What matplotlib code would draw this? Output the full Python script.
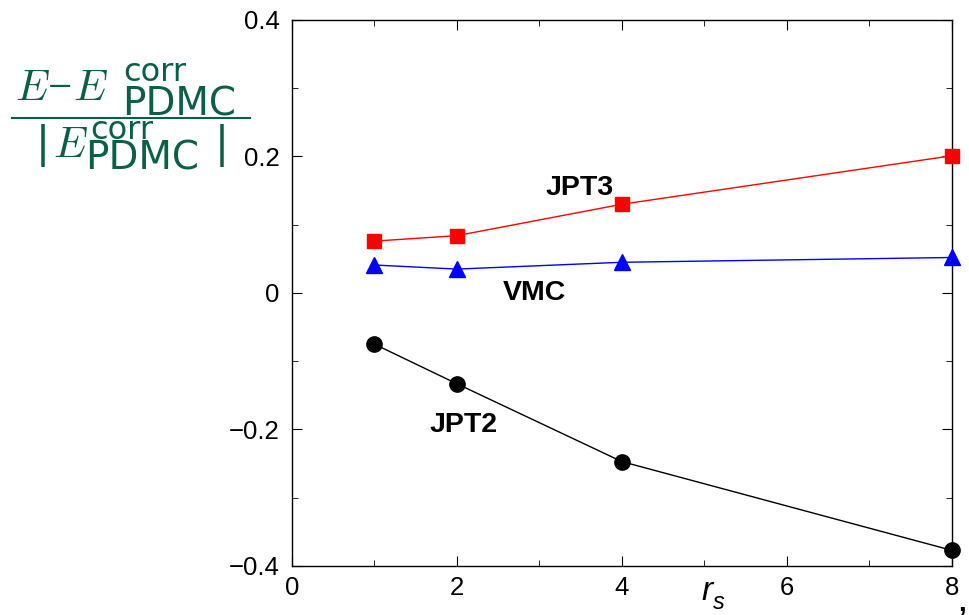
import matplotlib
matplotlib.use("Agg")
import matplotlib.pyplot as plt
from matplotlib.lines import Line2D
from matplotlib.ticker import MultipleLocator

plt.rcParams['font.family'] = ['Liberation Sans', 'DejaVu Sans']

rs = [1, 2, 4, 8]
jpt3 = [0.076, 0.084, 0.130, 0.201]
vmc = [0.041, 0.035, 0.045, 0.052]
jpt2 = [-0.075, -0.133, -0.247, -0.377]

xticks = [0, 2, 4, 6, 8]
yticks = [-0.4, -0.2, 0, 0.2, 0.4]
yticklabels = ['\u22120.4', '\u22120.2', '0', '0.2', '0.4']

W, H = 970, 615
fig = plt.figure(figsize=(W / 100, H / 100), dpi=100)
ax = fig.add_axes([0.301, 0.0797, 0.680, 0.8878])

ax.plot(rs, jpt3, color='red', lw=1, marker='s', ms=10, clip_on=False, zorder=3)
ax.plot(rs, vmc, color='blue', lw=1, marker='^', ms=12, clip_on=False, zorder=3)
ax.plot(rs, jpt2, color='black', lw=1, marker='o', ms=11, clip_on=False, zorder=3)

ax.set_xlim(0, 8)
ax.set_ylim(-0.4, 0.4)
ax.set_xticks(xticks)
ax.set_xticklabels([str(v) for v in xticks])
ax.xaxis.set_minor_locator(MultipleLocator(1))
ax.set_yticks(yticks)
ax.set_yticklabels(yticklabels)
ax.yaxis.set_minor_locator(MultipleLocator(0.1))
ax.tick_params(which='both', direction='in', top=True, right=True, labelsize=18.5)
ax.tick_params(axis='x', pad=7)
ax.tick_params(axis='y', pad=9)
ax.tick_params(which='major', length=7)
ax.tick_params(which='minor', length=4)
for s in ax.spines.values():
    s.set_linewidth(1)

ax.text(3.49, 0.1436, 'JPT3', fontsize=20.5, fontweight='bold', ha='center', va='baseline')
ax.text(2.945, -0.0103, 'VMC', fontsize=20.5, fontweight='bold', ha='center', va='baseline')
ax.text(2.085, -0.2037, 'JPT2', fontsize=20.5, fontweight='bold', ha='center', va='baseline')


def ptxt(x, y, s, **kw):
    fig.text(x / W, 1 - y / H, s, ha='left', va='baseline', **kw)


# x-axis label r_s
ptxt(701, 600, 'r', fontsize=24, style='italic')
ptxt(713, 609, 's', fontsize=17, style='italic')

# y-axis label (fraction)
green = '#0b5e48'
cm = dict(math_fontfamily='cm', color=green)
sans = dict(family='DejaVu Sans', color=green)

# numerator
ptxt(15, 100, r'$E$', fontsize=31, **cm)
ptxt(48, 100, '\u2212', fontsize=31, family='Liberation Serif', color=green)
ptxt(73, 100, r'$E$', fontsize=31, **cm)
ptxt(123, 81, 'corr', fontsize=23, **sans)
ptxt(122, 115, 'PDMC', fontsize=28, **sans)

fig.add_artist(Line2D([12 / W, 250 / W], [1 - 118.5 / H, 1 - 118.5 / H],
                      transform=fig.transFigure, color=green, lw=1.5))

# denominator
ptxt(36, 157, '|', fontsize=30, **sans)
ptxt(53, 157, r'$E$', fontsize=31, **cm)
ptxt(90, 139, 'corr', fontsize=23, **sans)
ptxt(85, 170, 'PDMC', fontsize=28, **sans)
ptxt(215, 157, '|', fontsize=30, **sans)

fig.text(0.992, 0.018, ',', fontsize=20, fontweight='bold', ha='center', va='center')

fig.savefig('out.png', dpi=100)
